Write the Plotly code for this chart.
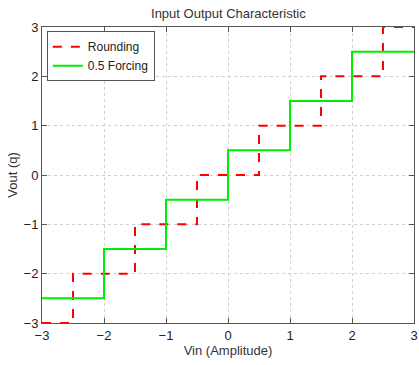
import plotly.graph_objects as go

round_x = [-3, -2.5, -1.5, -0.5, 0.5, 1.5, 2.5, 3]
round_y = [-3, -2, -1, 0, 1, 2, 3, 3]
force_x = [-3, -2, -1, 0, 1, 2, 3]
force_y = [-2.5, -1.5, -0.5, 0.5, 1.5, 2.5, 2.5]
tick_vals = [-3, -2, -1, 0, 1, 2, 3]

FONT = "Liberation Sans, Arial"

fig = go.Figure()
fig.add_trace(go.Scatter(x=round_x, y=round_y, mode="lines", name="Rounding",
                         line=dict(color="#ff0000", width=2, dash="dash", shape="hv")))
fig.add_trace(go.Scatter(x=force_x, y=force_y, mode="lines", name="0.5 Forcing",
                         line=dict(color="#00ee00", width=2, shape="hv")))

axis_common = dict(
    range=[-3, 3], tickvals=tick_vals, ticks="inside", ticklen=5, tickcolor="#555",
    showline=True, mirror="ticks", linecolor="#555", linewidth=1,
    showgrid=True, gridcolor="#cfcfcf", griddash="dot", gridwidth=1,
    zeroline=False, tickfont=dict(family=FONT, size=13, color="#222"),
    automargin=False, ticklabeloverflow="allow",
)

fig.update_layout(
    width=419, height=365,
    margin=dict(l=42, r=5, t=27, b=42),
    paper_bgcolor="white", plot_bgcolor="white",
    title=dict(text="Input Output Characteristic", x=0.545, xanchor="center", y=0.964, yanchor="middle",
               font=dict(family=FONT, size=13, color="#333")),
    xaxis=dict(axis_common, title=dict(text="Vin (Amplitude)", standoff=4,
               font=dict(family=FONT, size=13, color="#333"))),
    yaxis=dict(axis_common, title=dict(text="Vout (q)", standoff=3,
               font=dict(family=FONT, size=13, color="#333"))),
    legend=dict(x=0.013, y=0.986, xanchor="left", yanchor="top",
                bgcolor="white", bordercolor="#555", borderwidth=1,
                font=dict(family=FONT, size=12, color="#222"),
                tracegroupgap=0, itemwidth=30),
    showlegend=True,
)

fig.write_html("out.html", config={"displayModeBar": False},
               post_script="document.body.style.margin='0';document.body.style.overflow='hidden';")
